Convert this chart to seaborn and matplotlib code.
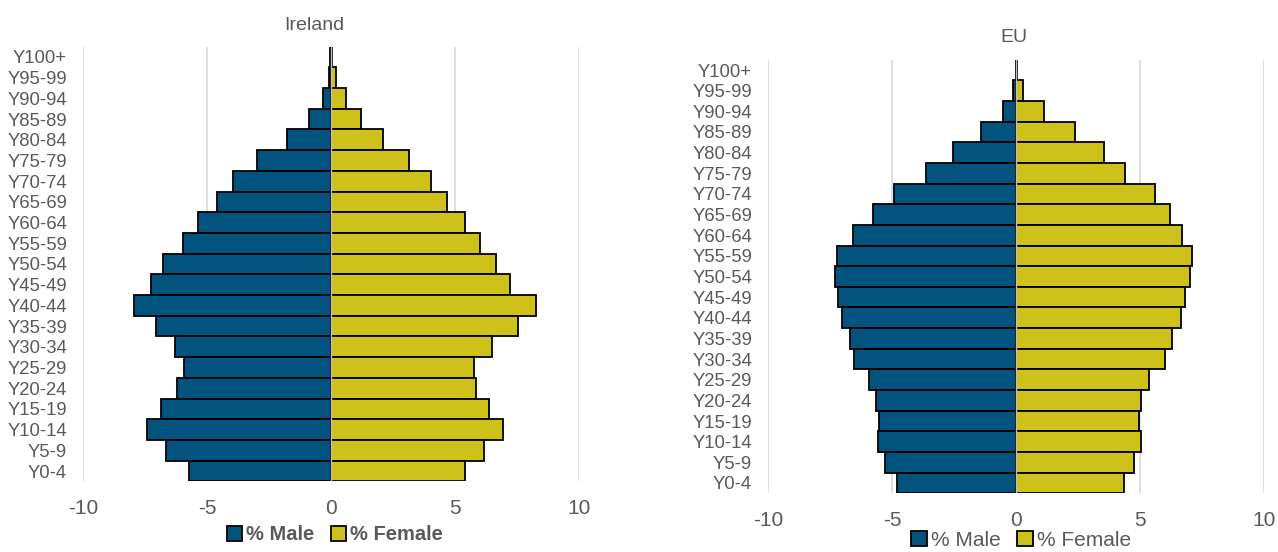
import matplotlib
matplotlib.use("Agg")
import matplotlib.pyplot as plt
import seaborn as sns
import pandas as pd
from matplotlib.patches import Patch

sns.set_theme(style="white")
plt.rcParams['font.family'] = ['Liberation Sans', 'DejaVu Sans']

ages = ["Y100+", "Y95-99", "Y90-94", "Y85-89", "Y80-84", "Y75-79", "Y70-74",
        "Y65-69", "Y60-64", "Y55-59", "Y50-54", "Y45-49", "Y40-44", "Y35-39",
        "Y30-34", "Y25-29", "Y20-24", "Y15-19", "Y10-14", "Y5-9", "Y0-4"]

ireland_male = [0.03, 0.07, 0.33, 0.87, 1.76, 2.98, 3.94, 4.60, 5.37, 5.98, 6.79,
                7.25, 7.94, 7.05, 6.28, 5.93, 6.19, 6.85, 7.43, 6.66, 5.73]
ireland_female = [0.05, 0.20, 0.59, 1.22, 2.08, 3.15, 4.04, 4.66, 5.40, 6.00, 6.66,
                  7.23, 8.27, 7.53, 6.49, 5.75, 5.83, 6.39, 6.94, 6.18, 5.40]

eu_male = [0.02, 0.11, 0.51, 1.43, 2.56, 3.61, 4.93, 5.77, 6.57, 7.23, 7.31,
           7.16, 7.03, 6.70, 6.52, 5.92, 5.66, 5.54, 5.57, 5.28, 4.80]
eu_female = [0.03, 0.30, 1.11, 2.39, 3.54, 4.39, 5.62, 6.21, 6.69, 7.08, 7.03,
             6.80, 6.66, 6.31, 6.02, 5.36, 5.05, 4.95, 5.03, 4.75, 4.34]

x_ticks = [-10, -5, 0, 5, 10]
series_names = ["% Male", "% Female"]

BLUE = "#02547F"
YELLOW = "#CDC11A"
GRID = "#D9D9D9"
TEXT = "#595959"


def build(male, female):
    rows = []
    for a, m, f in zip(ages, male, female):
        rows.append({"age": a, "value": -m, "sex": series_names[0]})
        rows.append({"age": a, "value": f, "sex": series_names[1]})
    return pd.DataFrame(rows)


fig = plt.figure(figsize=(12.78, 5.52), dpi=100)
W, H = 1278, 552

panels = [
    ("Ireland", ireland_male, ireland_female, (83, 46.6, 579, 481.4), 25, 314, True, (335, 535), 14.5),
    ("EU", eu_male, eu_female, (768, 59.7, 1264, 493.3), 37, 1014, False, (1021, 540), 15),
]

for title, male, female, (x0, y0, x1, y1), ty, tx, bold, (lx, ly), lsize in panels:
    ax = fig.add_axes([x0 / W, 1 - y1 / H, (x1 - x0) / W, (y1 - y0) / H])
    df = build(male, female)
    sns.barplot(data=df, x="value", y="age", hue="sex", order=ages,
                hue_order=series_names, palette=[BLUE, YELLOW], dodge=False,
                saturation=1, width=1.0, edgecolor="black", linewidth=1.3, ax=ax,
                legend=False, orient="h", zorder=3)
    ax.set_xlim(-10, 10)
    ax.set_xticks(x_ticks)
    ax.set_xticklabels([str(t) for t in x_ticks])
    ax.xaxis.grid(True, color=GRID, linewidth=1.2, zorder=0)
    ax.yaxis.grid(False)
    ax.axvline(0, color="#BFBFBF", linewidth=1.0, zorder=5)
    for s in ax.spines.values():
        s.set_visible(False)
    ax.set_xlabel("")
    ax.set_ylabel("")
    ax.tick_params(axis="x", labelsize=15, labelcolor=TEXT, length=0, pad=13)
    ax.tick_params(axis="y", labelsize=13.3, labelcolor=TEXT, length=0, pad=11.5)
    fig.text(tx / W, 1 - ty / H, title, ha="center", va="center", fontsize=14, color=TEXT)
    handles = [Patch(facecolor=BLUE, edgecolor="black", linewidth=1.3),
               Patch(facecolor=YELLOW, edgecolor="black", linewidth=1.3)]
    leg = fig.legend(handles, series_names, loc="center", bbox_to_anchor=(lx / W, 1 - ly / H),
                     ncol=2, frameon=False, handlelength=0.75, handleheight=0.75,
                     handletextpad=0.2, columnspacing=0.8, borderpad=0.1,
                     prop={"size": lsize, "weight": "bold" if bold else "normal"})
    for t in leg.get_texts():
        t.set_color(TEXT)

fig.savefig("out.png", dpi=100)
